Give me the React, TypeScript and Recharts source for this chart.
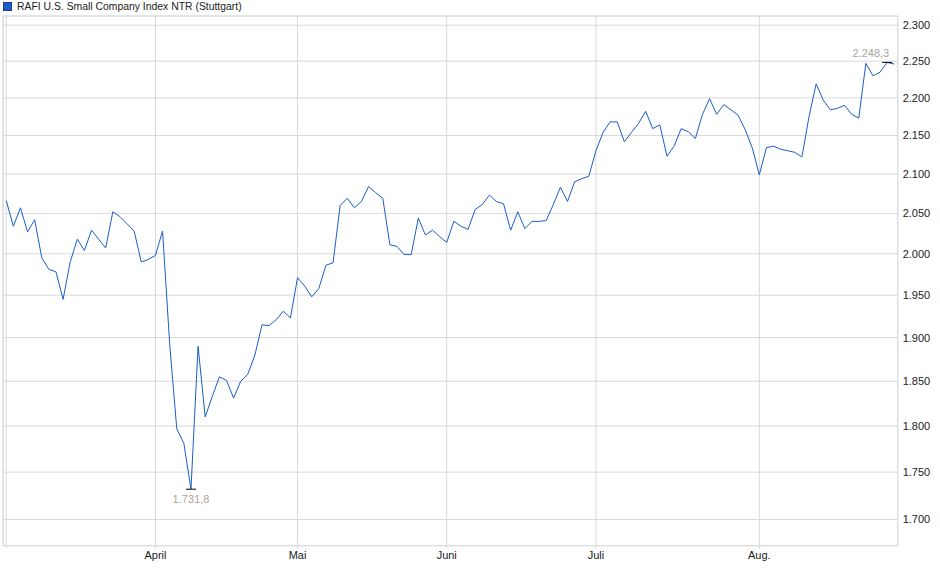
import { CartesianGrid, Line, LineChart, ReferenceArea, XAxis, YAxis } from 'recharts';

// closing values per trading day
const closes = [
  2066, 2034, 2057, 2027, 2042, 1995, 1981, 1978, 1945, 1990,
  2018, 2004, 2029, 2018, 2007, 2052, 2046, 2037, 2028, 1990,
  1993, 1998, 2028, 1893, 1797, 1781, 1731.8, 1890, 1810, 1833,
  1855, 1851, 1831, 1850, 1858, 1880, 1915, 1914, 1921, 1931,
  1923, 1971, 1961, 1948, 1958, 1986, 1989, 2060, 2069, 2057,
  2065, 2084, 2076, 2069, 2011, 2009, 1999, 1999, 2044, 2023,
  2029, 2021, 2014, 2040, 2034, 2030, 2055, 2061, 2073, 2065,
  2062, 2029, 2052, 2031, 2040, 2040, 2041, 2061, 2083, 2065,
  2090, 2094, 2097, 2130, 2154, 2168, 2168, 2142, 2154, 2166,
  2182, 2159, 2164, 2123, 2136, 2159, 2155, 2146, 2178, 2199,
  2178, 2191, 2184, 2177, 2158, 2134, 2099, 2134, 2136, 2132,
  2130, 2128, 2122, 2175, 2219, 2197, 2184, 2186, 2190, 2178,
  2173, 2247, 2230, 2235, 2248.3, 2246,
];

// first trading day of each month (index into closes)
const monthTicks = [0, 21, 41, 62, 83, 106];
const monthLabels = ['', 'April', 'Mai', 'Juni', 'Juli', 'Aug.'];

const priceTicks = [1700, 1750, 1800, 1850, 1900, 1950, 2000, 2050, 2100, 2150, 2200, 2250, 2300];

const seriesName = 'RAFI U.S. Small Company Index NTR (Stuttgart)';

const data = closes.map((v, i) => ({ i, v }));

const FONT = '"Liberation Sans", Arial, sans-serif';
const LINE = '#1a5cc8';
const GRID = '#dadada';

const xDomain: [number, number] = [-0.46, 125.48];
const yDomain: [number, number] = [1673, 2313];

const minIdx = closes.indexOf(Math.min(...closes));
const maxIdx = closes.indexOf(Math.max(...closes));

// German number formatting: 2.300 / 1.731,8
function fmtInt(v: number) {
  return String(Math.round(v)).replace(/\B(?=(\d{3})+(?!\d))/g, '.');
}
function fmtDec(v: number) {
  const [a, b] = v.toFixed(1).split('.');
  return `${fmtInt(Number(a))},${b}`;
}

function ExtremeDot(props: any) {
  const { cx, cy, index } = props;
  if (index === minIdx) {
    return (
      <g key={`d${index}`}>
        <line x1={cx - 5} x2={cx + 5} y1={cy} y2={cy} stroke="#000" strokeWidth={1} />
        <text x={cx} y={cy + 14} textAnchor="middle" fontSize={11} fontFamily={FONT} fill="#aaa49c">
          {fmtDec(closes[index])}
        </text>
      </g>
    );
  }
  if (index === maxIdx) {
    return (
      <g key={`d${index}`}>
        <line x1={cx - 5} x2={cx + 5} y1={cy} y2={cy} stroke="#000" strokeWidth={1} />
        <text x={cx + 2} y={cy - 5} textAnchor="end" fontSize={11} fontFamily={FONT} fill="#aaa49c">
          {fmtDec(closes[index])}
        </text>
      </g>
    );
  }
  return <g key={`d${index}`} />;
}

export default function App() {
  return (
    <div style={{ position: 'absolute', left: 0, top: 0, width: 940, height: 579, background: '#fff', fontFamily: FONT }}>
      <div style={{ position: 'absolute', left: 3, top: 1, display: 'flex', alignItems: 'center', fontSize: 10.4, color: '#222' }}>
        <span style={{ display: 'inline-block', width: 7, height: 7, background: LINE, border: '1px solid #1b3f86', marginRight: 5 }} />
        {seriesName}
      </div>
      <LineChart width={940} height={579} data={data} margin={{ top: 16, right: 2.3, bottom: 3.3, left: 3 }}>
        <CartesianGrid stroke={GRID} />
        <ReferenceArea x1={xDomain[0]} x2={xDomain[1]} y1={yDomain[0]} y2={yDomain[1]} fill="none" stroke={GRID} />
        <XAxis
          dataKey="i"
          type="number"
          domain={xDomain}
          ticks={monthTicks}
          interval={0}
          tickFormatter={(v) => monthLabels[monthTicks.indexOf(v)] ?? ''}
          axisLine={false}
          tickLine={{ stroke: GRID }}
          tickSize={3}
          tickMargin={2}
          height={30}
          tick={{ fill: '#222', fontSize: 11, fontFamily: FONT }}
        />
        <YAxis
          orientation="right"
          scale="log"
          domain={yDomain}
          allowDataOverflow
          ticks={priceTicks}
          interval={0}
          tickFormatter={fmtInt}
          axisLine={false}
          tickLine={false}
          tickSize={0}
          tickMargin={5}
          width={40}
          tick={{ fill: '#222', fontSize: 11, fontFamily: FONT, textAnchor: 'start' }}
        />
        <Line
          type="linear"
          dataKey="v"
          name={seriesName}
          stroke={LINE}
          strokeWidth={1}
          dot={ExtremeDot}
          activeDot={false}
          isAnimationActive={false}
        />
      </LineChart>
    </div>
  );
}
